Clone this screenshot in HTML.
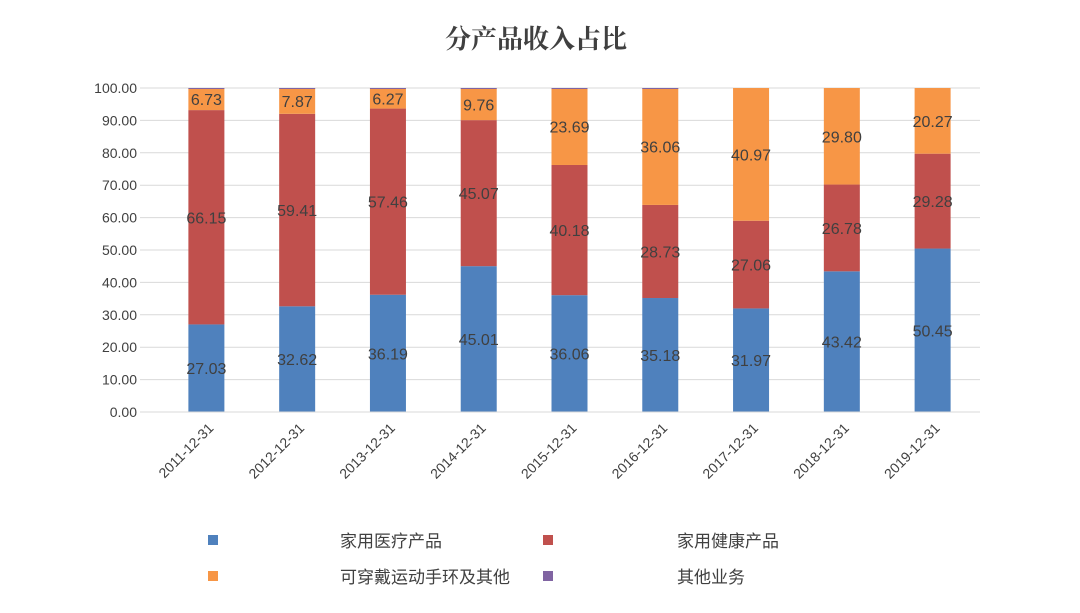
<!DOCTYPE html>
<html><head><meta charset="utf-8">
<style>
body{margin:0;background:#fff;}
svg{display:block;}
text{font-family:"Liberation Sans","Noto Sans CJK SC",sans-serif;}
</style></head>
<body>
<svg id="chart" width="1080" height="613" xmlns="http://www.w3.org/2000/svg">
<text x="536" y="48" text-anchor="middle" font-size="26" font-weight="bold" fill="#404040" style='font-family:"Noto Serif CJK SC","Liberation Serif",serif'>分产品收入占比</text>
<g id="grid"></g><g id="bars"></g><g id="labels"></g><g id="axes"></g>
<g>
<rect x="208" y="535" width="10" height="10" fill="#4f81bd"/>
<text x="340" y="547" font-size="17" fill="#404040">家用医疗产品</text>
<rect x="543" y="535" width="10" height="10" fill="#c0504d"/>
<text x="677" y="547" font-size="17" fill="#404040">家用健康产品</text>
<rect x="208" y="571" width="10" height="10" fill="#f79646"/>
<text x="340" y="583" font-size="17" fill="#404040">可穿戴运动手环及其他</text>
<rect x="543" y="571" width="10" height="10" fill="#8064a2"/>
<text x="677" y="583" font-size="17" fill="#404040">其他业务</text>
</g>
</svg>
<script>
const categories=["2011-12-31","2012-12-31","2013-12-31","2014-12-31","2015-12-31","2016-12-31","2017-12-31","2018-12-31","2019-12-31"];
const medical=[27.03,32.62,36.19,45.01,36.06,35.18,31.97,43.42,50.45];
const health=[66.15,59.41,57.46,45.07,40.18,28.73,27.06,26.78,29.28];
const wearable=[6.73,7.87,6.27,9.76,23.69,36.06,40.97,29.80,20.27];
const other=[0.09,0.10,0.08,0.16,0.07,0.03,0,0,0];
const yTicks=[0,10,20,30,40,50,60,70,80,90,100];
const NS="http://www.w3.org/2000/svg";
const gx0=140,gx1=980,bx0=161,bx1=978,yb=412,yt=88;
const y=v=>yb-(v/100)*(yb-yt);
const step=(bx1-bx0)/categories.length;
const xc=i=>bx0+step*(i+0.5);
const bw=36;
function mk(t,a,p){const e=document.createElementNS(NS,t);for(const k in a)e.setAttribute(k,a[k]);p.appendChild(e);return e;}
const grid=document.getElementById('grid'),bars=document.getElementById('bars'),labels=document.getElementById('labels'),axes=document.getElementById('axes');
yTicks.forEach(t=>{
 const l=mk('line',{x1:gx0,x2:gx1,y1:y(t),y2:y(t),stroke:'#d9d9d9','stroke-width':1},grid);
 
 
 const tx=mk('text',{x:gx0-3,y:y(t)+5,'text-anchor':'end','font-size':14,fill:'#404040'},axes);
 tx.textContent=t.toFixed(2);
 
 
});
const series=[{d:medical,c:'#4f81bd',n:'medical',lab:true},{d:health,c:'#c0504d',n:'health',lab:true},{d:wearable,c:'#f79646',n:'wearable',lab:true},{d:other,c:'#8064a2',n:'other',lab:false}];
categories.forEach((cat,i)=>{
 let base=0;
 series.forEach(s=>{
  const v=s.d[i];
  if(v>0){
   const r=mk('rect',{x:xc(i)-bw/2,y:y(base+v),width:bw,height:Math.max(y(base)-y(base+v),s.lab?0:1),fill:s.c},bars);
   
   
   if(s.lab){
    const t=mk('text',{x:xc(i),y:y(base+v/2)+6,'text-anchor':'middle','font-size':16,fill:'#404040'},labels);
    t.textContent=v.toFixed(2);
    
    
   }
  }
  base+=v;
 });
 const t=mk('text',{'text-anchor':'end','font-size':14,fill:'#404040',transform:`translate(${xc(i)+8},${yb+17}) rotate(-45)`},axes);
 t.textContent=cat;
 
 
});
const ax=mk('line',{x1:gx0,x2:gx1,y1:yb,y2:yb,stroke:'#d9d9d9','stroke-width':1},axes);


</script>
</body></html>
